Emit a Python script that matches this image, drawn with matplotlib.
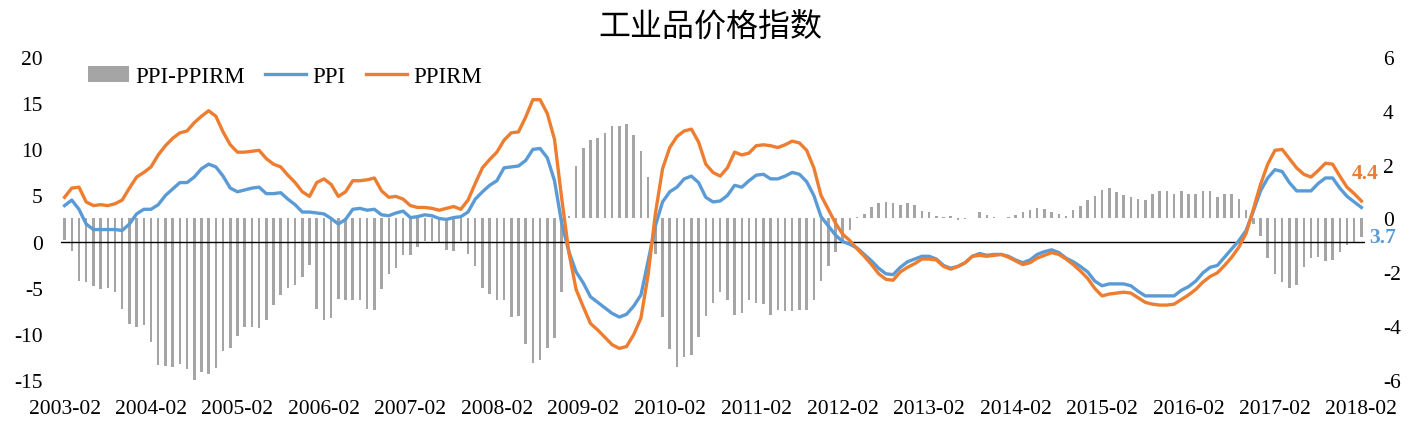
import numpy as np
import matplotlib
matplotlib.use('Agg')
import matplotlib.pyplot as plt

# monthly data, 2003-02 .. 2018-02 (YoY %)
ppi = [3.9, 4.5, 3.5, 1.9, 1.3, 1.3, 1.3, 1.3, 1.2, 1.9,
       3.0, 3.5, 3.5, 4.0, 5.0, 5.7, 6.4, 6.4, 7.0, 7.9,
       8.4, 8.1, 7.1, 5.8, 5.4, 5.6, 5.8, 5.9, 5.2, 5.2,
       5.3, 4.6, 4.0, 3.2, 3.2, 3.1, 3.0, 2.5, 1.9, 2.4,
       3.5, 3.6, 3.4, 3.5, 2.9, 2.8, 3.1, 3.3, 2.6, 2.7,
       2.9, 2.8, 2.5, 2.4, 2.6, 2.7, 3.2, 4.6, 5.4, 6.1,
       6.6, 8.0, 8.1, 8.2, 8.8, 10.0, 10.1, 9.1, 6.6, 2.0,
       -1.1, -3.3, -4.5, -6.0, -6.6, -7.2, -7.8, -8.2, -7.9, -7.0,
       -5.8, -2.1, 1.7, 4.3, 5.4, 5.9, 6.8, 7.1, 6.4, 4.8,
       4.3, 4.4, 5.0, 6.1, 5.9, 6.6, 7.2, 7.3, 6.8, 6.8,
       7.1, 7.5, 7.3, 6.5, 5.0, 2.7, 1.7, 0.7, 0.0, -0.3,
       -0.7, -1.4, -2.1, -2.9, -3.5, -3.6, -2.8, -2.2, -1.9, -1.6,
       -1.6, -1.9, -2.6, -2.9, -2.7, -2.3, -1.6, -1.3, -1.5, -1.4,
       -1.4, -1.6, -2.0, -2.3, -2.0, -1.4, -1.1, -0.9, -1.2, -1.8,
       -2.2, -2.7, -3.3, -4.3, -4.8, -4.6, -4.6, -4.6, -4.8, -5.4,
       -5.9, -5.9, -5.9, -5.9, -5.9, -5.3, -4.9, -4.3, -3.4, -2.8,
       -2.6, -1.7, -0.8, 0.1, 1.2, 3.3, 5.5, 6.9, 7.8, 7.6,
       6.4, 5.5, 5.5, 5.5, 6.3, 6.9, 6.9, 5.8, 4.9, 4.3, 3.7]

ppirm = [4.8, 5.8, 5.9, 4.3, 3.9, 4.0, 3.9, 4.1, 4.5, 5.8,
         7.0, 7.5, 8.1, 9.4, 10.4, 11.2, 11.8, 12.0, 12.9, 13.6,
         14.2, 13.6, 11.9, 10.5, 9.7, 9.7, 9.8, 9.9, 9.0, 8.4,
         8.1, 7.2, 6.4, 5.4, 4.9, 6.4, 6.8, 6.2, 4.9, 5.4,
         6.6, 6.6, 6.7, 6.9, 5.5, 4.8, 4.9, 4.6, 3.9, 3.7,
         3.7, 3.6, 3.4, 3.6, 3.8, 3.5, 4.5, 6.3, 8.0, 8.9,
         9.7, 11.0, 11.8, 11.9, 13.5, 15.4, 15.4, 13.9, 11.1, 4.7,
         -1.2, -5.2, -7.1, -8.9, -9.6, -10.4, -11.2, -11.6, -11.4, -10.1,
         -8.3, -3.6, 3.0, 7.9, 10.2, 11.4, 12.0, 12.2, 10.8, 8.4,
         7.5, 7.1, 8.0, 9.7, 9.4, 9.6, 10.4, 10.5, 10.4, 10.2,
         10.5, 10.9, 10.7, 9.9, 8.0, 5.0, 3.5, 2.0, 0.8, 0.1,
         -0.8, -1.6, -2.5, -3.5, -4.1, -4.2, -3.3, -2.8, -2.4, -1.9,
         -1.9, -2.0, -2.7, -3.0, -2.7, -2.3, -1.6, -1.5, -1.6, -1.5,
         -1.4, -1.7, -2.1, -2.5, -2.3, -1.8, -1.5, -1.2, -1.4, -1.9,
         -2.5, -3.2, -4.0, -5.1, -5.9, -5.7, -5.6, -5.5, -5.6, -6.1,
         -6.6, -6.8, -6.9, -6.9, -6.8, -6.3, -5.8, -5.2, -4.4, -3.8,
         -3.4, -2.6, -1.7, -0.6, 0.9, 3.5, 6.2, 8.4, 9.9, 10.0,
         9.0, 8.0, 7.3, 7.0, 7.7, 8.5, 8.4, 7.1, 5.9, 5.2, 4.4]

# PPI-PPIRM bars (right axis)
spread = [-0.79, -1.22, -2.31, -2.37, -2.52, -2.64, -2.58, -2.74, -3.38, -3.91,
          -4.04, -3.96, -4.58, -5.45, -5.49, -5.52, -5.43, -5.61, -6.04, -5.73,
          -5.79, -5.57, -4.93, -4.83, -4.37, -4.02, -4.04, -4.06, -3.77, -3.22,
          -2.83, -2.60, -2.46, -2.17, -1.72, -3.35, -3.79, -3.69, -3.01, -3.03,
          -3.05, -3.05, -3.35, -3.42, -2.64, -2.05, -1.84, -1.37, -1.37, -1.06,
          -0.83, -0.83, -0.88, -1.16, -1.22, -0.83, -1.32, -1.76, -2.58, -2.81,
          -3.05, -3.05, -3.67, -3.63, -4.66, -5.36, -5.27, -4.83, -4.46, -2.73,
          0.11, 1.95, 2.64, 2.91, 3.00, 3.18, 3.44, 3.44, 3.53, 3.12,
          2.52, 1.53, -1.32, -3.66, -4.87, -5.53, -5.15, -5.08, -4.40, -3.63,
          -3.16, -2.73, -3.04, -3.60, -3.50, -3.04, -3.16, -3.20, -3.60, -3.39,
          -3.43, -3.43, -3.39, -3.41, -3.04, -2.34, -1.76, -1.26, -0.85, -0.42,
          0.07, 0.17, 0.44, 0.57, 0.63, 0.57, 0.52, 0.57, 0.50, 0.28,
          0.26, 0.11, 0.07, 0.10, -0.04, -0.02, 0.00, 0.23, 0.12, 0.05,
          0.00, 0.05, 0.13, 0.23, 0.31, 0.38, 0.36, 0.26, 0.16, 0.08,
          0.31, 0.46, 0.68, 0.82, 1.05, 1.12, 0.98, 0.87, 0.79, 0.72,
          0.69, 0.91, 1.01, 1.01, 0.91, 1.01, 0.91, 0.91, 1.01, 1.01,
          0.79, 0.91, 0.91, 0.72, 0.30, -0.20, -0.65, -1.48, -2.08, -2.37,
          -2.58, -2.48, -1.79, -1.47, -1.42, -1.59, -1.53, -1.26, -0.97, -0.88, -0.68]

tick_labels = ['2003-02', '2004-02', '2005-02', '2006-02', '2007-02', '2008-02',
               '2009-02', '2010-02', '2011-02', '2012-02', '2013-02', '2014-02',
               '2015-02', '2016-02', '2017-02', '2018-02']

plt.rcParams['font.family'] = ['Liberation Serif', 'DejaVu Sans']
plt.rcParams['axes.unicode_minus'] = False

fig = plt.figure(figsize=(14.21, 4.27), dpi=100)
ax = fig.add_axes([0.0429, 0.1084, 0.9177, 0.7551])
ax2 = ax.twinx()
ax.set_zorder(ax2.get_zorder() + 1)
ax.patch.set_visible(False)

x = np.arange(len(ppi))
bars = ax2.bar(x, spread, width=0.35, color='#A5A5A5', label='PPI-PPIRM')
l1, = ax.plot(x, ppi, color='#5B9BD5', lw=2.4, label='PPI', solid_joinstyle='round')
l2, = ax.plot(x, ppirm, color='#ED7D31', lw=2.4, label='PPIRM', solid_joinstyle='round')
ax.axhline(0, color='black', lw=1.0, zorder=1)

ax.set_xlim(-0.5, len(ppi) - 0.5)
ax.set_ylim(-15, 20)
ax.set_yticks(range(-15, 21, 5))
ax2.set_ylim(-6, 6)
ax2.set_yticks(range(-6, 7, 2))
ax.set_xticks(np.arange(0, len(ppi), 12))
ax.set_xticklabels(tick_labels)

for a in (ax, ax2):
    for s in a.spines.values():
        s.set_visible(False)
ax.tick_params(axis='both', length=0, labelsize=15.5)
ax.tick_params(axis='x', pad=14)
ax.tick_params(axis='y', pad=13)
ax2.tick_params(axis='y', length=0, labelsize=15.5, pad=13)

# end-value labels
ax.annotate(f'{ppirm[-1]:.1f}', xy=(x[-1], ppirm[-1]), xytext=(3, 20),
            textcoords='offset points', ha='center', va='center',
            color='#ED7D31', fontsize=15.5, fontweight='bold')
ax.annotate(f'{ppi[-1]:.1f}', xy=(x[-1], ppi[-1]), xytext=(15, -21),
            textcoords='offset points', ha='center', va='center',
            color='#5B9BD5', fontsize=15.5, fontweight='bold')

ax.legend([bars, l1, l2], ['PPI-PPIRM', 'PPI', 'PPIRM'], loc='center left',
          bbox_to_anchor=(0.0207, 0.939), ncol=3, frameon=False, fontsize=16.5,
          handlelength=1.8, handletextpad=0.25, columnspacing=0.9,
          borderpad=0, borderaxespad=0)

fig.text(0.5, 1 - 27.5 / 427, '工业品价格指数', ha='center', va='center',
         fontsize=23, family=['Noto Sans CJK SC', 'DejaVu Sans'])

fig.savefig('out.png', dpi=100)
